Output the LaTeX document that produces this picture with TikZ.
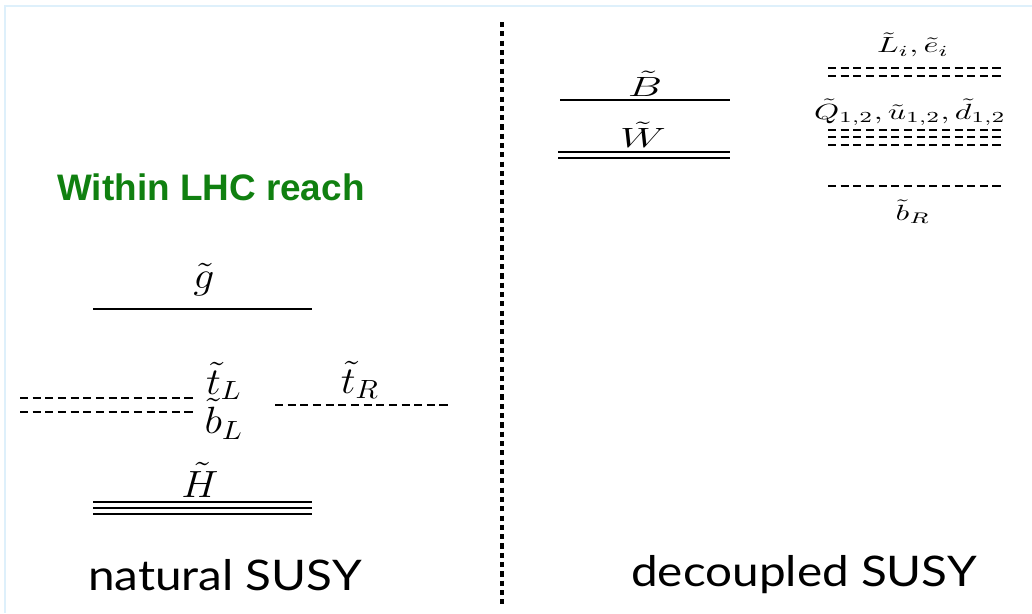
\documentclass[tikz,border=0pt]{standalone}
\usepackage{fontspec}
\setsansfont{Lato}
\newfontfamily\arialfont{Liberation Sans}
\usepackage{tikz}
\usetikzlibrary{positioning}
\definecolor{lhcgreen}{RGB}{16,128,16}
\definecolor{frameblue}{RGB}{222,240,251}

\begin{document}
\begin{tikzpicture}[
  x=0.02cm, y=-0.02cm,
  lvl/.style={line width=1.2pt},
  sq/.style={line width=1.1pt, dash pattern=on 4.6pt off 2.6pt},
  lab/.style={inner sep=0pt, font=\Large, scale=1.5, xscale=1.1},
  rlab/.style={inner sep=0pt, font=\normalsize, scale=1.25, xscale=1.45},
  wlab/.style={inner sep=0pt, font=\Large, scale=1.1, xscale=1.55},
  ttl/.style={inner sep=0pt, font=\sffamily\fontsize{24}{28}\selectfont, xscale=1.13},
]
\useasboundingbox (0,0) rectangle (1032,613);
\draw[frameblue, line width=1.5pt] (5,613) -- (5,6) -- (1032,6);
\draw[line width=1.8pt, dash pattern=on 2.9pt off 2.4pt] (502,22) -- (502,606);

\node[font=\arialfont\bfseries\fontsize{21}{24}\selectfont, text=lhcgreen] (reach) at (211,187) {Within LHC reach};

\node[lab] (gluino) at (204,280) {$\tilde g$};
\draw[lvl] (93,309) -- (312,309);
\node[lab] (tL) at (224,381) {$\tilde t_L$};
\node[lab] (bL) at (224,419) {$\tilde b_L$};
\draw[sq] (20,398) -- (194,398);
\draw[sq] (20,412) -- (194,412);
\node[lab] (tR) at (360,380) {$\tilde t_R$};
\draw[sq] (275,405) -- (450,405);
\node[lab] (higgsino) at (200,480) {$\tilde H$};
\foreach \yy in {502,508,514}
  \draw[lvl] (93,\yy) -- (312,\yy);

\node[wlab] (bino) at (645,84) {$\tilde B$};
\draw[lvl] (560,100) -- (730,100);
\node[wlab] (wino) at (643,135) {$\tilde W$};
\draw[lvl] (558,152) -- (730,152);
\draw[lvl] (558,158) -- (730,158);

\node[rlab] (slep) at (913,45) {$\tilde L_i, \tilde e_i$};
\draw[sq] (828,68) -- (1002,68);
\draw[sq] (828,76) -- (1002,76);
\node[rlab] (squark) at (910,112) {$\tilde Q_{1,2}, \tilde u_{1,2}, \tilde d_{1,2}$};
\foreach \yy in {130,137,145}
  \draw[sq] (828,\yy) -- (1002,\yy);
\draw[sq] (828,186) -- (1002,186);
\node[rlab] (bR) at (913,212) {$\tilde b_R$};

\node[ttl] (natural) at (225,575) {natural SUSY};
\node[ttl] (decoupled) at (804,575) {decoupled SUSY};
\end{tikzpicture}
\end{document}
